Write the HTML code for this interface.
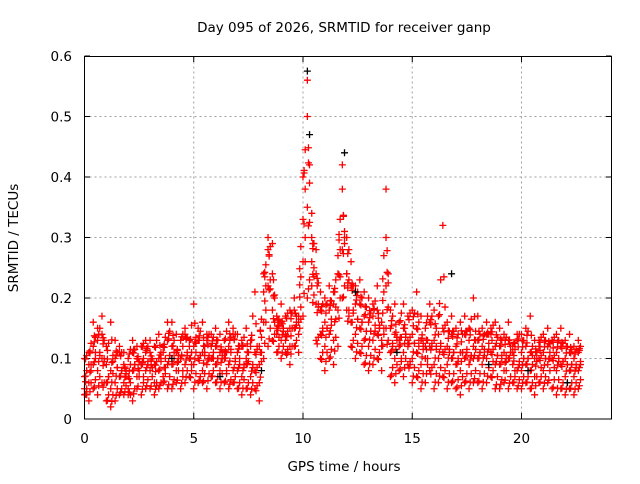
<!DOCTYPE html>
<html><head><meta charset="utf-8"><style>
body{margin:0;background:#fff;width:640px;height:480px;overflow:hidden;font-family:"DejaVu Sans","Liberation Sans",sans-serif}
</style></head><body>
<svg id="chart" width="640" height="480" viewBox="0 0 640 480" xmlns="http://www.w3.org/2000/svg" font-family="DejaVu Sans, Liberation Sans, sans-serif">
<rect width="640" height="480" fill="#fff"/>
<text x="344" y="32" font-size="13.5" text-anchor="middle" fill="#000">Day 095 of 2026, SRMTID for receiver ganp</text>
<text x="344" y="471" font-size="13.5" text-anchor="middle" fill="#000">GPS time / hours</text>
<text transform="translate(18,238) rotate(-90)" font-size="13.5" text-anchor="middle" fill="#000">SRMTID / TECUs</text>
<g id="grid"></g><g id="ticks"></g><g id="marks"></g>
<rect x="84.5" y="56.5" width="527" height="362.5" fill="none" stroke="#000" stroke-width="1"/>
</svg>
<script>
const xTicks=[0,5,10,15,20];
const yTicks=[0,0.1,0.2,0.3,0.4,0.5,0.6];
const yLabels=["0","0.1","0.2","0.3","0.4","0.5","0.6"];
const times=[];for(let i=0;i<114;i++)times.push(+(i*0.2).toFixed(1));
const seriesA=[.04,.03,.05,.04,.06,.03,.02,.03,.04,.04,.04,.03,.05,.04,.05,.05,.04,.05,.06,.05,.05,.06,.05,.06,.07,.05,.06,.06,.05,.07,.06,.05,.06,.05,.06,.05,.04,.05,.04,.05,.03,.10,.12,.13,.11,.10,.11,.09,.12,.11,.17,.20,.22,.13,.10,.08,.10,.09,.12,.20,.18,.12,.10,.11,.09,.08,.09,.10,.08,.15,.07,.06,.08,.07,.09,.06,.07,.05,.06,.08,.05,.06,.07,.05,.06,.05,.04,.06,.05,.06,.06,.05,.06,.07,.05,.05,.06,.05,.06,.05,.05,.06,.05,.04,.06,.05,.06,.05,.04,.05,.04,.05,.04,.05];
const seriesB=[.07,.06,.09,.08,.10,.06,.05,.06,.07,.06,.07,.08,.07,.09,.08,.08,.09,.08,.07,.09,.09,.08,.10,.09,.10,.09,.10,.08,.09,.10,.09,.08,.10,.09,.08,.08,.07,.09,.07,.08,.06,.16,.22,.18,.15,.13,.14,.12,.15,.14,.26,.35,.26,.19,.14,.12,.14,.13,.18,.28,.24,.16,.14,.15,.13,.12,.13,.14,.12,.22,.11,.10,.12,.11,.13,.10,.11,.09,.10,.12,.09,.10,.11,.09,.10,.09,.08,.10,.09,.10,.10,.09,.10,.11,.09,.09,.08,.10,.09,.08,.08,.09,.08,.07,.10,.08,.09,.10,.08,.09,.07,.08,.07,.08];
const seriesC=[.10,.09,.12,.13,.14,.09,.08,.10,.11,.09,.10,.11,.10,.12,.11,.11,.12,.10,.11,.13,.12,.11,.13,.14,.12,.12,.13,.11,.14,.12,.12,.11,.13,.12,.14,.11,.12,.10,.13,.11,.09,.21,.28,.24,.14,.16,.17,.15,.18,.17,.33,.50,.30,.24,.18,.16,.18,.19,.24,.38,.30,.22,.19,.19,.17,.16,.17,.18,.16,.30,.15,.14,.16,.15,.17,.14,.15,.13,.15,.16,.13,.14,.15,.12,.14,.12,.11,.14,.13,.12,.13,.12,.14,.15,.12,.12,.11,.13,.12,.14,.11,.12,.11,.10,.13,.11,.12,.13,.11,.12,.10,.11,.10,.11];
const seriesD=[.05,.11,.16,.15,.17,.12,.16,.13,.12,.11,.05,.13,.12,.09,.13,.13,.06,.14,.12,.16,.16,.14,.10,.15,.13,.19,.15,.16,.13,.14,.15,.14,.11,.16,.15,.14,.13,.15,.12,.21,.12,.24,.30,.29,.17,.19,.13,.18,.20,.16,.40,.56,.34,.28,.21,.20,.22,.21,.27,.42,.24,.26,.22,.23,.21,.20,.19,.22,.13,.38,.18,.19,.13,.19,.12,.18,.21,.17,.12,.19,.18,.17,.32,.16,.17,.15,.16,.17,.15,.20,.17,.15,.16,.14,.16,.15,.14,.16,.11,.13,.14,.15,.17,.13,.12,.14,.15,.13,.14,.15,.13,.14,.12,.13];
const blackT=[10.2,10.3,11.9,16.8,12.4,8.1,14.3,18.5,4.0,6.2,20.3,22.1];
const blackV=[.575,.47,.44,.24,.21,.08,.11,.09,.10,.07,.08,.06];
const X=t=>84.5+t*21.85, Y=v=>419-v*605;
const ns="http://www.w3.org/2000/svg";
const grid=document.getElementById('grid'),ticks=document.getElementById('ticks'),marks=document.getElementById('marks');
function mk(tag,attrs,parent){const e=document.createElementNS(ns,tag);for(const k in attrs)e.setAttribute(k,attrs[k]);parent.appendChild(e);return e;}
yTicks.forEach((v,i)=>{const y=Y(v);
 if(i>0&&i<yTicks.length-1){const g=mk('line',{x1:84.5,x2:611.5,y1:y,y2:y,stroke:'#a0a0a0','stroke-dasharray':'2,3'},grid);
 
 }
 const t=mk('text',{x:72,y:y+5,'font-size':13.5,'text-anchor':'end'},ticks);t.textContent=yLabels[i];
 
 
 mk('line',{x1:84.5,x2:90,y1:y,y2:y,stroke:'#000'},ticks);mk('line',{x1:606,x2:611.5,y1:y,y2:y,stroke:'#000'},ticks);});
xTicks.forEach(v=>{const x=X(v);
 if(v>0){const g=mk('line',{x1:x,x2:x,y1:56.5,y2:419,stroke:'#a0a0a0','stroke-dasharray':'2,3'},grid);
 
 }
 const t=mk('text',{x:x,y:443,'font-size':13.5,'text-anchor':'middle'},ticks);t.textContent=String(v);
 
 
 mk('line',{x1:x,x2:x,y1:419,y2:413,stroke:'#000'},ticks);mk('line',{x1:x,x2:x,y1:56.5,y2:62,stroke:'#000'},ticks);});
function plus(t,v,color){const x=X(t),y=Y(v);
 const p=mk('path',{d:`M${x-3.5},${y}H${x+3.5}M${x},${y-3.5}V${y+3.5}`,stroke:color,'stroke-width':1.3,fill:'none'},marks);
 
 }
const all=[seriesA,seriesB,seriesC,seriesD];
all.forEach((s,k)=>{const o=all[(k+1)%4];s.forEach((v,i)=>{
 plus(times[i],v,'#ff0000');
 const nb=o[i+1]!==undefined?o[i+1]:o[i];
 plus(times[i]+0.1,(v+nb)/2,'#ff0000');
 const sb=s[i+1]!==undefined?s[i+1]:v;
 plus(times[i]+0.05,(2*v+nb)/3*0.5+(v+sb)/2*0.5,'#ff0000');
});});
blackT.forEach((t,i)=>plus(t,blackV[i],'#000'));
</script>
</body></html>
